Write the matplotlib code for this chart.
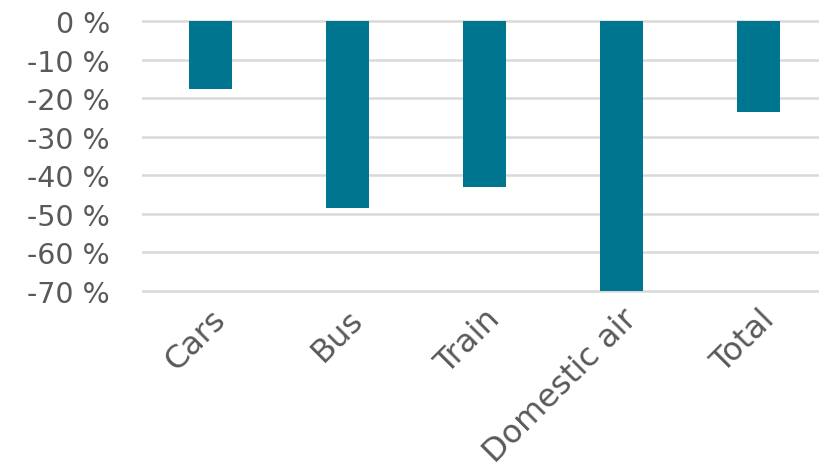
import numpy as np
import matplotlib.pyplot as plt

categories = ["Cars", "Bus", "Train", "Domestic air", "Total"]
change_pct = [-17.5, -48.5, -43.0, -70.0, -23.5]

fig = plt.figure(figsize=(8.19, 4.77), dpi=100)
W, H = 819, 477
# plot area in pixels: x 142..819, y 22..292 (0 % .. -70 %)
px_per_pct = (292 - 22) / 70
pad = 1.0
top = 22 - pad * px_per_pct
bottom = 292 + pad * px_per_pct
ax = fig.add_axes([142 / W, 1 - bottom / H, (W - 142) / W, (bottom - top) / H])

x = np.arange(len(categories))
ax.bar(x, change_pct, width=0.31, color="#00758F", zorder=2)

ax.set_ylim(-70 - pad, 0 + pad)
ax.set_xlim(-0.5, -0.5 + (W - 142) / 137)
ax.set_yticks(np.arange(-70, 1, 10))
ax.set_yticklabels([f"{v} %" for v in range(-70, 1, 10)], fontsize=20.5)
ax.set_xticks(x)
ax.set_xticklabels(categories, rotation=45, ha="right", rotation_mode="anchor",
                   fontsize=23)

ax.grid(axis="y", color="#D9D9D9", linewidth=1.8, zorder=0)
for s in ax.spines.values():
    s.set_visible(False)
ax.tick_params(length=0, labelcolor="#595959")
ax.tick_params(axis="y", pad=23)
ax.tick_params(axis="x", pad=6)

fig.savefig("out.png", dpi=100)
